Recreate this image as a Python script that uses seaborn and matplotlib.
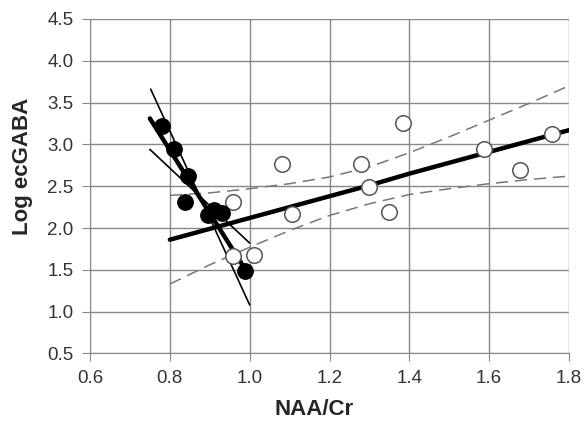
import numpy as np
import matplotlib
matplotlib.use("Agg")
import matplotlib.pyplot as plt
import seaborn as sns

# filled circles
filled_x = [0.78, 0.81, 0.845, 0.837, 0.895, 0.91, 0.93, 0.988]
filled_y = [3.22, 2.94, 2.62, 2.31, 2.16, 2.21, 2.18, 1.49]

# open circles
open_x = [0.958, 0.958, 1.01, 1.08, 1.105, 1.383, 1.278, 1.298, 1.348, 1.588, 1.678, 1.758]
open_y = [2.31, 1.67, 1.68, 2.77, 2.17, 3.26, 2.77, 2.49, 2.19, 2.94, 2.69, 3.12]

# fitted line + 95% bands for open circles
fit_x = [0.8, 0.9, 1.0, 1.1, 1.2, 1.3, 1.4, 1.5, 1.6, 1.7, 1.8]
fit_y = [1.86, 1.99, 2.12, 2.25, 2.38, 2.51, 2.65, 2.78, 2.91, 3.04, 3.17]
band_hi = [2.39, 2.42, 2.47, 2.53, 2.61, 2.73, 2.90, 3.09, 3.29, 3.49, 3.70]
band_lo = [1.33, 1.56, 1.77, 1.97, 2.15, 2.29, 2.40, 2.47, 2.53, 2.58, 2.62]

# fitted line + bands for filled circles
fit2_x = [0.75, 0.983]
fit2_y = [3.31, 1.55]
band2_x = [0.752, 1.0]
band2_hi = [3.66, 1.08]
band2_lo_x = [0.75, 1.0]
band2_lo = [2.94, 1.82]

sns.set_style("white")
plt.rcParams["font.family"] = ["Liberation Sans", "DejaVu Sans"]

fig = plt.figure(figsize=(5.86, 4.30), dpi=100)
ax = fig.add_axes([0.1536, 0.178, 0.8174, 0.778])

dash = (0, (8, 4.5))
sns.lineplot(x=fit_x, y=band_hi, color="#777777", lw=1.1, ax=ax, linestyle=dash)
sns.lineplot(x=fit_x, y=band_lo, color="#777777", lw=1.1, ax=ax, linestyle=dash)
sns.lineplot(x=fit_x, y=fit_y, color="black", lw=3.2, ax=ax)

sns.lineplot(x=band2_x, y=band2_hi, color="black", lw=1.2, ax=ax)
sns.lineplot(x=band2_lo_x, y=band2_lo, color="black", lw=1.2, ax=ax)
sns.lineplot(x=fit2_x, y=fit2_y, color="black", lw=3.2, ax=ax)

sns.scatterplot(x=open_x, y=open_y, s=125, facecolor="white", edgecolor="#555555", linewidth=1.1, ax=ax, zorder=5)
sns.scatterplot(x=filled_x, y=filled_y, s=125, color="black", edgecolor="black", ax=ax, zorder=6)

ax.set_xlim(0.6, 1.8)
ax.set_ylim(0.5, 4.5)
xt = np.arange(0.6, 1.81, 0.2)
yt = np.arange(0.5, 4.51, 0.5)
ax.set_xticks(xt)
ax.set_yticks(yt)
ax.set_xticklabels([f"{v:.1f}" for v in xt])
ax.set_yticklabels([f"{v:.1f}" for v in yt])
ax.grid(True, color="#888888", lw=1.0)
ax.set_axisbelow(True)
for s in ["top", "right"]:
    ax.spines[s].set_visible(False)
for s in ["left", "bottom"]:
    ax.spines[s].set_color("#888888")
ax.tick_params(axis="both", direction="out", length=6, color="#888888", labelsize=13.5, labelcolor="#333333", pad=6)
ax.tick_params(axis="both", bottom=True, left=True)
ax.set_xlabel("NAA/Cr", fontsize=16, fontweight="bold")
ax.set_ylabel("Log ecGABA", fontsize=16, fontweight="bold")
ax.xaxis.set_label_coords(0.468, -0.135)
ax.yaxis.set_label_coords(-0.12, 0.56)

fig.savefig("out.png", dpi=100)
